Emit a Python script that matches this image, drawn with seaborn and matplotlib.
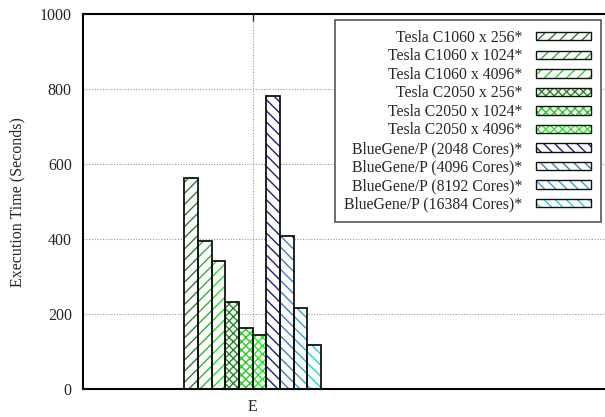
import numpy as np
import pandas as pd
import matplotlib
matplotlib.use("Agg")
import matplotlib.pyplot as plt
import seaborn as sns
from matplotlib.patches import Patch, Rectangle
from matplotlib.legend_handler import HandlerBase

# ---- data ----
configs = [
    "Tesla C1060 x 256*", "Tesla C1060 x 1024*", "Tesla C1060 x 4096*",
    "Tesla C2050 x 256*", "Tesla C2050 x 1024*", "Tesla C2050 x 4096*",
    "BlueGene/P (2048 Cores)*", "BlueGene/P (4096 Cores)*",
    "BlueGene/P (8192 Cores)*", "BlueGene/P (16384 Cores)*",
]
exec_time = [564, 396, 341, 232, 163, 143, 783, 407, 217, 117]
category = ["E"] * len(configs)

colors = ["#2e7d32", "#33b033", "#22dd22",
          "#1e8c1e", "#22cc22", "#22ee22",
          "#1c1c8c", "#3a80c0", "#33a0dd", "#22d0ee"]
hatches = ["///", "///", "///", "xxxx", "xxxx", "xxxx",
           "\\\\\\", "\\\\\\", "\\\\\\", "\\\\\\"]

df = pd.DataFrame({"cat": category, "config": configs, "time": exec_time})

sns.set_style("white")
plt.rcParams["font.family"] = ["Liberation Serif", "DejaVu Serif"]
plt.rcParams["hatch.linewidth"] = 1.0

fig = plt.figure(figsize=(6.05, 4.17), dpi=100)
ax = fig.add_axes([0.137, 0.067, 0.866, 0.899])

# hatched layer (hatch colour comes from edgecolor)
sns.barplot(data=df, x="cat", y="time", hue="config", hue_order=configs,
            palette=["white"] * len(configs), width=0.8, linewidth=0,
            legend=False, ax=ax, zorder=2)
for cont, col, h in zip(ax.containers, colors, hatches):
    for p in cont.patches:
        p.set_facecolor("white")
        p.set_edgecolor(col)
        p.set_hatch(h)
        p.set_linewidth(0)

# black outline layer
sns.barplot(data=df, x="cat", y="time", hue="config", hue_order=configs,
            fill=False, width=0.8, linewidth=1.3, legend=False, ax=ax,
            zorder=3)
for p in ax.patches[len(configs):]:
    p.set_edgecolor("#111111")

ax.set_ylim(0, 1000)
ax.set_xlim(-0.995, 2.075)
ax.set_yticks(np.arange(0, 1001, 200))
ax.set_xlabel("")
ax.set_ylabel("Execution Time (Seconds)", fontsize=11.5, labelpad=10)
ax.tick_params(axis="both", labelsize=11.5, direction="in", length=5,
               width=1, top=True, right=False)
ax.tick_params(axis="y", pad=8)
ax.tick_params(axis="x", pad=7)
ax.grid(True, color="#999999", linestyle=(0, (1, 1.5)), linewidth=0.8)
ax.set_axisbelow(True)
for s in ["left", "bottom", "top"]:
    ax.spines[s].set_linewidth(1.5)
    ax.spines[s].set_color("black")
ax.spines["right"].set_visible(False)


class HatchBox(HandlerBase):
    # coloured hatch inside a dark outline
    def create_artists(self, legend, orig, xdescent, ydescent, width,
                       height, fontsize, trans):
        r1 = Rectangle((-xdescent, -ydescent), width, height,
                       facecolor="white", edgecolor=orig.get_edgecolor(),
                       hatch=orig.get_hatch(), linewidth=0, transform=trans)
        r2 = Rectangle((-xdescent, -ydescent), width, height, fill=False,
                       edgecolor="#111111", linewidth=1.0, transform=trans)
        return [r1, r2]


handles = [Patch(facecolor="white", edgecolor=c, hatch=h)
           for c, h in zip(colors, hatches)]
leg = ax.legend(handles, configs, loc="upper right", markerfirst=False,
                fontsize=11.3, frameon=True, fancybox=False, framealpha=1,
                edgecolor="#555555", handlelength=3.5, handleheight=0.45,
                labelspacing=0.16, borderpad=0.6, handletextpad=0.9,
                borderaxespad=0.4, handler_map={Patch: HatchBox()})
leg.get_frame().set_linewidth(1.2)

fig.savefig("out.png", dpi=100)
